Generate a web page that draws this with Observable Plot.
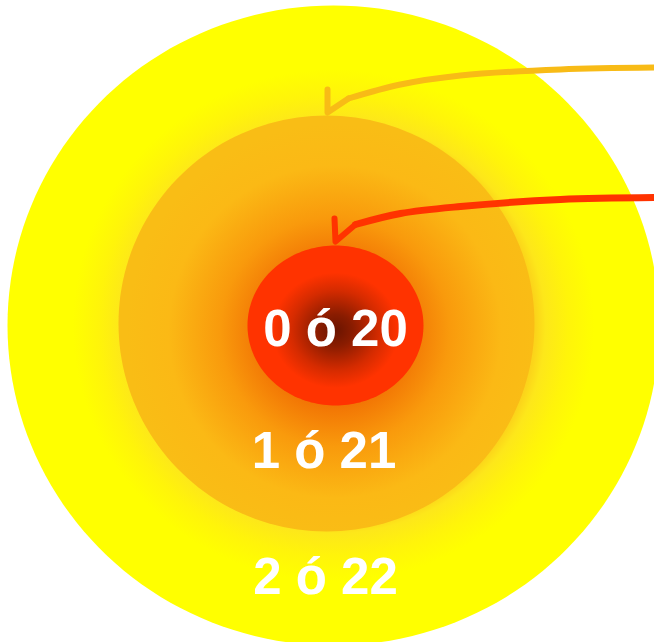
<!DOCTYPE html>
<html>
<head>
<meta charset="utf-8">
<script src="https://cdn.jsdelivr.net/npm/d3@7"></script>
<script src="https://cdn.jsdelivr.net/npm/@observablehq/plot@0.6"></script>
<style>
  html, body { margin: 0; padding: 0; background: #fff; }
  #chart { width: 654px; height: 642px; overflow: hidden; }
</style>
</head>
<body>
<div id="chart"></div>
<script>
// Rings (outer to inner): label, centre and radii in chart units, gradient id
const ringNames = ["outer", "middle", "inner"];
const ringCx = [333, 326, 335];
const ringCy = [325, 323, 325];
const ringRx = [326, 208, 88];
const ringRy = [320, 208, 80];
const ringFill = ["url(#gOuter)", "url(#gMiddle)", "url(#gInner)"];

// Labels
const labels = ["0 ó 20", "1 ó 21", "2 ó 22"];
const labelX = [335, 323.5, 325];
const labelBaseline = [345, 467, 593];

// Arrows (shaft points and arrowheads)
const orangeShaft = [[662, 67], [560, 69], [460, 75], [400, 84], [348, 98]];
const orangeHead = [[348, 98], [327, 112], [327, 89]];
const redShaft = [[662, 197], [560, 199], [460, 206], [400, 213], [355, 224]];
const redHead = [[355, 224], [335, 241], [334, 218]];

const W = 654, H = 642;

// Build outline polygons of each ring from its centre and radii
const angles = d3.range(0, 361, 2).map(a => a * Math.PI / 180);
const ringPts = ringNames.flatMap((name, i) =>
  angles.map(t => ({ ring: name, x: ringCx[i] + ringRx[i] * Math.cos(t), y: ringCy[i] + ringRy[i] * Math.sin(t) }))
);
const toPts = arr => arr.map(([x, y]) => ({ x, y }));

const marks = [];
ringNames.forEach((name, i) => {
  marks.push(Plot.line(ringPts.filter(d => d.ring === name), {
    x: "x", y: "y", fill: ringFill[i], stroke: "none", curve: "linear-closed"
  }));
});
marks.push(
  Plot.line(toPts(orangeShaft), { x: "x", y: "y", stroke: "#f8bb16", strokeWidth: 6, curve: "catmull-rom", strokeLinecap: "round" }),
  Plot.line(toPts(orangeHead), { x: "x", y: "y", stroke: "#f8bb16", strokeWidth: 6, strokeLinecap: "round", strokeLinejoin: "round" }),
  Plot.line(toPts(redShaft), { x: "x", y: "y", stroke: "#ff3300", strokeWidth: 7, curve: "catmull-rom", strokeLinecap: "round" }),
  Plot.line(toPts(redHead), { x: "x", y: "y", stroke: "#ff3300", strokeWidth: 6, strokeLinecap: "round", strokeLinejoin: "round" }),
  Plot.text(labels.map((t, i) => ({ t, x: labelX[i], y: labelBaseline[i] - 0.32 * 51 })), {
    x: "x", y: "y", text: "t", fill: "white", fontSize: 51, fontWeight: "bold",
    fontFamily: "Liberation Sans, Arial, sans-serif", textAnchor: "middle", lineAnchor: "middle"
  })
);

const chart = Plot.plot({
  width: W, height: H,
  margin: 0,
  x: { domain: [0, W], range: [0, W], axis: null },
  y: { domain: [0, H], range: [0, H], axis: null },
  style: { background: "white", overflow: "hidden" },
  marks
});

// gradient definitions
const defs = d3.select(chart).insert("defs", ":first-child");
function grad(id, cx, cy, stops) {
  const g = defs.append("radialGradient").attr("id", id)
    .attr("cx", cx).attr("cy", cy).attr("r", 0.5).attr("fx", cx).attr("fy", cy);
  stops.forEach(([o, c]) => g.append("stop").attr("offset", o).attr("stop-color", c));
}
grad("gOuter", 0.5, 0.5, [[0, "#f9c418"], [0.62, "#fbd41a"], [0.65, "#fde71a"], [0.72, "#fff40a"], [0.8, "#ffff00"], [1, "#ffff00"]]);
grad("gMiddle", 0.52, 0.52, [[0, "#c83000"], [0.3, "#f06a02"], [0.55, "#f99a0c"], [0.8, "#fbb915"], [1, "#f9bd15"]]);
grad("gInner", 0.5, 0.53, [[0, "#6a1400"], [0.2, "#8a1c00"], [0.5, "#d52b00"], [0.72, "#ff3300"], [1, "#ff3300"]]);

document.getElementById("chart").appendChild(chart);
</script>
</body>
</html>
